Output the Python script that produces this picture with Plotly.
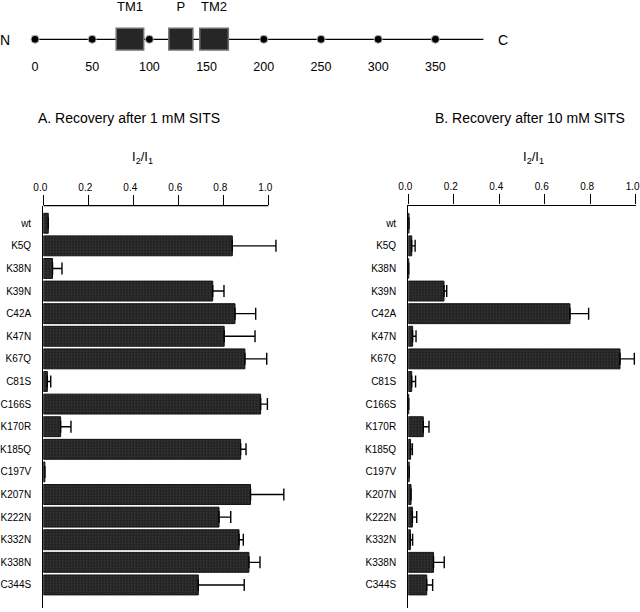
import plotly.graph_objects as go

# ---------------- data ----------------
mutants = ["wt", "K5Q", "K38N", "K39N", "C42A", "K47N", "K67Q", "C81S", "C166S",
           "K170R", "K185Q", "C197V", "K207N", "K222N", "K332N", "K338N", "C344S"]

rec_1mM = [0.022, 0.840, 0.041, 0.753, 0.852, 0.804, 0.896, 0.018, 0.966,
           0.077, 0.877, 0.007, 0.921, 0.781, 0.870, 0.914, 0.689]
err_1mM = [0.0, 0.194, 0.042, 0.050, 0.092, 0.137, 0.097, 0.015, 0.030,
           0.046, 0.024, 0.0, 0.148, 0.052, 0.019, 0.049, 0.204]

rec_10mM = [0.003, 0.015, 0.002, 0.157, 0.711, 0.019, 0.931, 0.015, 0.002,
            0.066, 0.010, 0.004, 0.012, 0.018, 0.009, 0.111, 0.081]
err_10mM = [0.0, 0.015, 0.0, 0.012, 0.082, 0.015, 0.063, 0.017, 0.0,
            0.025, 0.008, 0.0, 0.0, 0.019, 0.010, 0.047, 0.026]

x_ticks = [0.0, 0.2, 0.4, 0.6, 0.8, 1.0]

# schematic of the channel subunit (residue numbers)
protein_length = 392
residue_marks = [0, 50, 100, 150, 200, 250, 300, 350]
segments = ["TM1", "P", "TM2"]
seg_start = [71, 117, 144]
seg_end = [95, 138, 169]

# ---------------- layout helpers ----------------
W, H = 640, 612
def px(x):
    return x / W
def py(y):
    return 1 - y / H

FONT = "Liberation Sans, Arial, sans-serif"
UNIT_A = 225.0          # pixels per unit on panel A's value axis
XMAX_A = 1.1            # extra room so error bars past 1.0 are not clipped

fig = go.Figure()

bar_marker = dict(
    color="#222222",
    line=dict(color="#111111", width=1),
    pattern=dict(shape=".", fgcolor="#606060", bgcolor="#1e1e1e", size=3, solidity=0.3),
)

def add_panel(values, errs, xa, ya):
    fig.add_trace(go.Bar(
        y=mutants, x=values, orientation="h",
        marker=bar_marker, cliponaxis=False,
        error_x=dict(type="data", symmetric=False, array=errs,
                     arrayminus=[0] * len(errs), color="black",
                     thickness=1.4, width=6),
        xaxis=xa, yaxis=ya, showlegend=False,
    ))

add_panel(rec_1mM, err_1mM, "x", "y")
add_panel(rec_10mM, err_10mM, "x2", "y2")

# schematic line, dots, segment boxes
fig.add_trace(go.Scatter(
    x=[0, protein_length], y=[39.3, 39.3], mode="lines",
    line=dict(color="black", width=1.3), xaxis="x3", yaxis="y3",
    showlegend=False, hoverinfo="skip", cliponaxis=False))

for s, e in zip(seg_start, seg_end):
    fig.add_shape(type="rect", xref="x3", yref="y3", x0=s, x1=e, y0=28.3, y1=50,
                  fillcolor="#262626", line=dict(color="#707070", width=1.5))

# top axis line of panel A (ends at 1.0 like the reference)
fig.add_shape(type="line", xref="x", yref="y domain", x0=x_ticks[0], x1=x_ticks[-1],
              y0=1, y1=1, line=dict(color="black", width=1.3), layer="above")

fig.add_trace(go.Scatter(
    x=residue_marks, y=[39.3] * len(residue_marks), mode="markers",
    marker=dict(color="black", size=8, line=dict(color="#bbbbbb", width=1)),
    xaxis="x3", yaxis="y3", showlegend=False, cliponaxis=False))

fig.add_trace(go.Scatter(
    x=residue_marks, y=[68.3] * len(residue_marks), mode="text",
    text=[str(r) for r in residue_marks], textfont=dict(size=12.5, family=FONT, color="black"),
    xaxis="x3", yaxis="y3", showlegend=False, cliponaxis=False))

fig.add_trace(go.Scatter(
    x=[(s + e) / 2 for s, e in zip(seg_start, seg_end)], y=[8] * len(segments),
    mode="text", text=segments, textfont=dict(size=13, family=FONT, color="black"),
    xaxis="x3", yaxis="y3", showlegend=False, cliponaxis=False))

annotations = [
    dict(x=-26, y=40, xref="x3", yref="y3", text="N", showarrow=False,
         font=dict(size=14, family=FONT, color="black")),
    dict(x=409, y=40, xref="x3", yref="y3", text="C", showarrow=False,
         font=dict(size=14, family=FONT, color="black")),
    dict(x=px(36), y=py(118), xref="paper", yref="paper", xanchor="left", yanchor="middle",
         text="A. Recovery after 1 mM SITS", showarrow=False,
         font=dict(size=14, family=FONT, color="black")),
    dict(x=px(433), y=py(118), xref="paper", yref="paper", xanchor="left", yanchor="middle",
         text="B. Recovery after 10 mM SITS", showarrow=False,
         font=dict(size=14, family=FONT, color="black")),
    dict(x=px(142), y=py(158), xref="paper", yref="paper", xanchor="center", yanchor="middle",
         text="I<sub>2</sub>/I<sub>1</sub>", showarrow=False,
         font=dict(size=13, family=FONT, color="black")),
    dict(x=px(533), y=py(158), xref="paper", yref="paper", xanchor="center", yanchor="middle",
         text="I<sub>2</sub>/I<sub>1</sub>", showarrow=False,
         font=dict(size=13, family=FONT, color="black")),
]

xaxis_common = dict(
    side="top", tickvals=x_ticks,
    ticktext=[f"{t:.1f}" for t in x_ticks],
    linecolor="black", linewidth=1.3,
    ticks="outside", ticklen=10, tickwidth=1.3, tickcolor="black",
    showgrid=False, zeroline=False, automargin=False,
    ticklabelshift=-3, ticklabeloverflow="allow",
    tickfont=dict(size=10, family=FONT, color="black"),
)
yaxis_common = dict(
    type="category", categoryorder="array", categoryarray=mutants,
    range=[16 + 1.02, -0.78],
    showline=True, linecolor="black", linewidth=1.3,
    ticks="", showgrid=False, zeroline=False, automargin=False,
    ticklabelstandoff=9, ticklabeloverflow="allow",
    tickfont=dict(size=10, family=FONT, color="black"),
    domain=[py(608), py(205.6)],
)

fig.update_layout(
    width=W, height=H,
    margin=dict(l=0, r=0, t=0, b=0, autoexpand=False),
    paper_bgcolor="white", plot_bgcolor="white",
    bargap=0.12,
    font=dict(family=FONT, color="black"),
    xaxis=dict(**xaxis_common, range=[0, XMAX_A], showline=False,
               domain=[px(43.3), px(43.3 + UNIT_A * XMAX_A)], anchor="y"),
    yaxis=dict(**yaxis_common, anchor="x"),
    xaxis2=dict(**xaxis_common, range=[0, 1], showline=True,
                domain=[px(408.3), px(635.7)], anchor="y2"),
    yaxis2=dict(**yaxis_common, anchor="x2"),
    xaxis3=dict(domain=[0, 1], range=[(0 - 35) / 1.144, (640 - 35) / 1.144],
                visible=False, anchor="y3", automargin=False),
    yaxis3=dict(domain=[py(90), 1], range=[90, 0], visible=False, anchor="x3",
                automargin=False),
    annotations=annotations,
)

fig.write_html(
    "out.html",
    config={"displayModeBar": False},
    post_script="document.body.style.margin='0';document.body.style.padding='0';",
)
